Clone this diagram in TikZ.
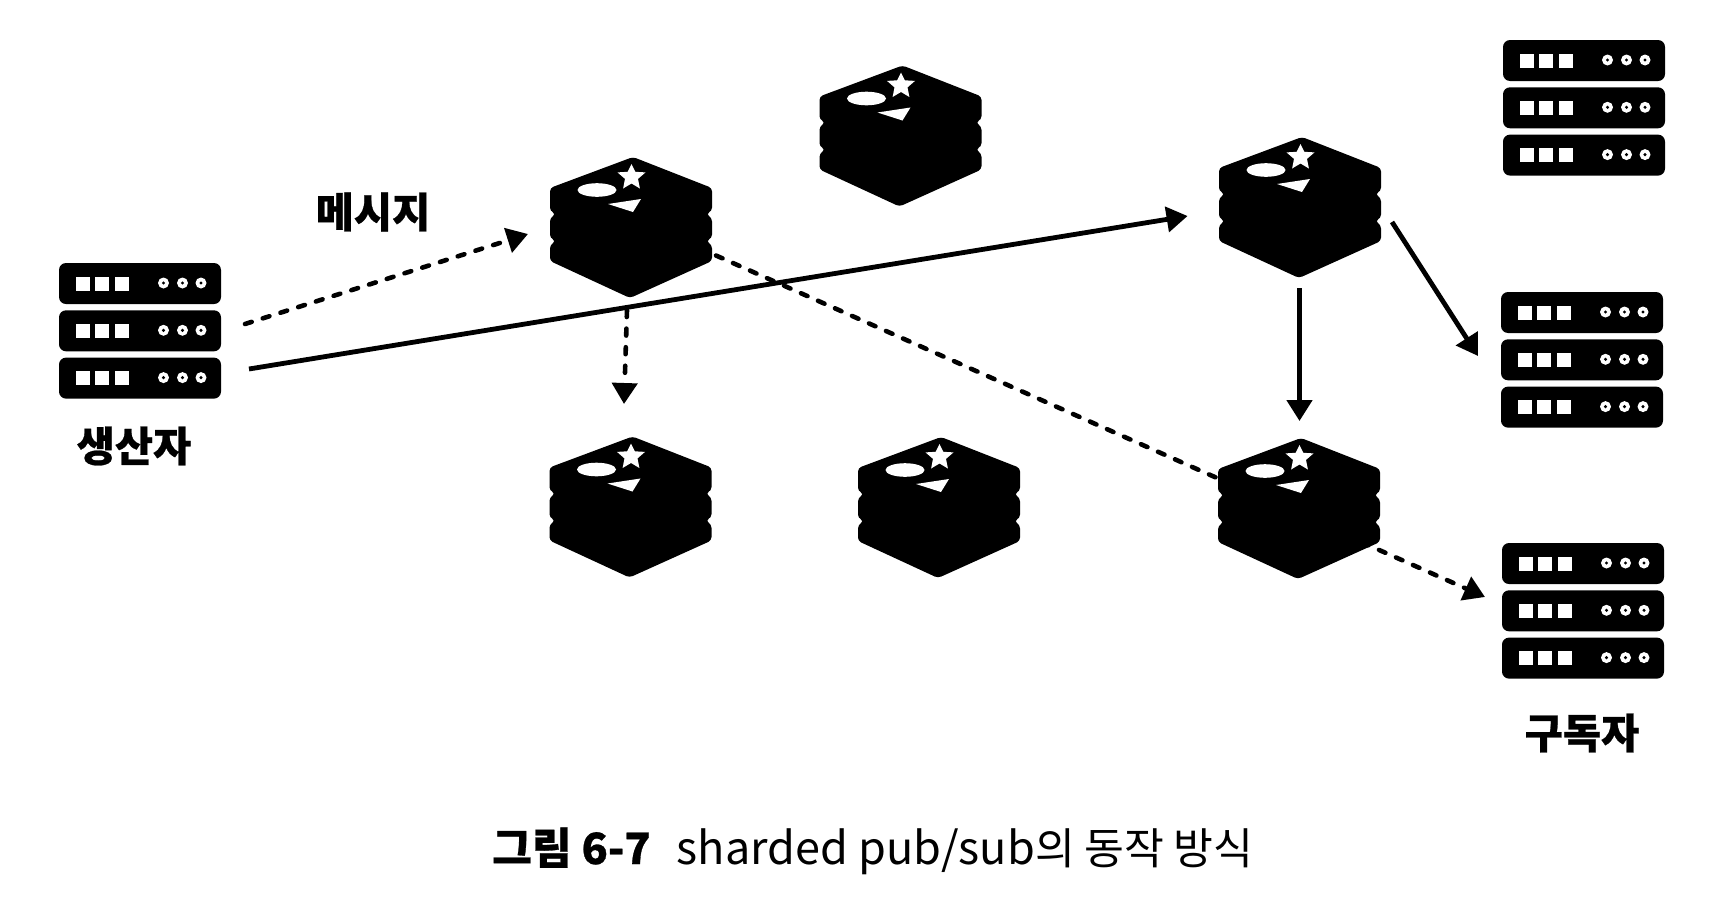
\documentclass[tikz,border=0pt]{standalone}
\usepackage{fontspec}
\setmainfont[BoldFeatures={FakeBold=0.6}]{Noto Sans CJK KR}
\usetikzlibrary{arrows.meta}
\newcommand{\redisbox}[3]{%
  \node[anchorbox,minimum width=162pt,minimum height=141pt] (#1) at (#2-2,#3+70.5) {};
  \begin{scope}[shift={(#2,#3)}]
    \fill[black,rounded corners=3.5pt] (0,0) -- (79,31) -- (79,54) -- (73,57) -- (79,61) -- (79,81) -- (73,84) -- (79,88) -- (79,104) -- (-3,141) -- (-83,104) -- (-83,88) -- (-77,84) -- (-83,81) -- (-83,61) -- (-77,57) -- (-83,54) -- (-83,31) -- cycle;
    \fill[white] (-36,33) ellipse [x radius=19.5,y radius=6.8];
    \begin{scope}[shift={(-1.5,1)}]
      \fill[white] (0,6) -- (3.8,13.8) -- (14,14.4) -- (6.5,20.9) -- (8.4,30.5) -- (0,25.5) -- (-8.4,30.5) -- (-6.5,20.9) -- (-14,14.4) -- (-3.8,13.8) -- cycle;
    \end{scope}
    \fill[white] (-25,47) -- (8,42) -- (0,55) -- cycle;
  \end{scope}}
\newcommand{\serverrow}[2]{%
  \begin{scope}[shift={(#1,#2)}]
    \fill[black,rounded corners=7pt] (0,0) rectangle (162,41);
    \foreach \sx in {17,36,55.5} {\fill[white] (\sx,13.5) rectangle ++(14,14);}
    \foreach \cx in {104.5,123.5,142} {\fill[white] (\cx,20) circle (5.5); \fill[black] (\cx,20) circle (1.7);}
  \end{scope}}
\newcommand{\serverbox}[3]{%
  \node[anchorbox,minimum width=162pt,minimum height=136pt] (#1) at (#2+81,#3+68) {};
  \serverrow{#2}{#3}
  \serverrow{#2}{#3+47.3}
  \serverrow{#2}{#3+94.6}}
\tikzset{
  anchorbox/.style={rectangle,inner sep=0pt,outer sep=0pt,draw=none,fill=none},
  linkbase/.style={black,-{Triangle[length=21pt,width=25pt]}},
  solidlink/.style={linkbase,line width=4.8pt},
  dashlink/.style={linkbase,line width=4.6pt,line cap=round,dash pattern=on 7pt off 11.6pt},
  textlabel/.style={font=\bfseries\fontsize{41.5}{44}\selectfont,inner sep=0pt,text=black},
  captiontext/.style={font=\fontsize{45}{48}\selectfont,inner sep=0pt,text=black}
}
\begin{document}
\begin{tikzpicture}[x=1pt,y=-1pt]
  \useasboundingbox (0,0) rectangle (1714,916);
  \fill[white] (0,0) rectangle (1714,916);

  \serverbox{prod}{59}{263}
  \serverbox{subA}{1503}{40}
  \serverbox{subB}{1501}{292}
  \serverbox{subC}{1502}{543}

  \redisbox{r1}{633}{157}
  % this connector runs behind r6, so it is drawn before r6
  \draw[dashlink] ([shift={(4,28)}]r1.east) -- ([shift={(-17,-14)}]subC.west);

  \redisbox{r2}{902.5}{65.5}
  \redisbox{r3}{1302}{137}
  \redisbox{r4}{632.5}{436.5}
  \redisbox{r5}{941}{437}
  \redisbox{r6}{1301}{438}

  \draw[dashlink] ([shift={(24,-7)}]prod.east) -- ([shift={(-22,6.5)}]r1.west);
  \draw[solidlink] ([shift={(28,38)}]prod.east) -- ([shift={(-31.4,8.5)}]r3.west);
  \draw[dashlink] ([shift={(-4,12)}]r1.south) -- ([shift={(-6.5,-32.5)}]r4.north);
  \draw[solidlink] ([shift={(-0.5,10)}]r3.south) -- ([shift={(0.5,-17)}]r6.north);
  \draw[solidlink] ([shift={(11,14.5)}]r3.east) -- ([shift={(-23,-4)}]subB.west);

  \node[textlabel] (msg) at (373,212) {메시지};
  \node[textlabel] (prodlabel) at (134,446) {생산자};
  \node[textlabel] (sublabel) at (1582,733) {구독자};
  \node[captiontext,anchor=west] (caption) at (492,851) {{\fontsize{43.2}{48}\selectfont\bfseries 그림 6-7}\hspace{26pt}sharded pub/sub{\fontsize{43.3}{48}\selectfont 의 동작 방식}};
\end{tikzpicture}
\end{document}
